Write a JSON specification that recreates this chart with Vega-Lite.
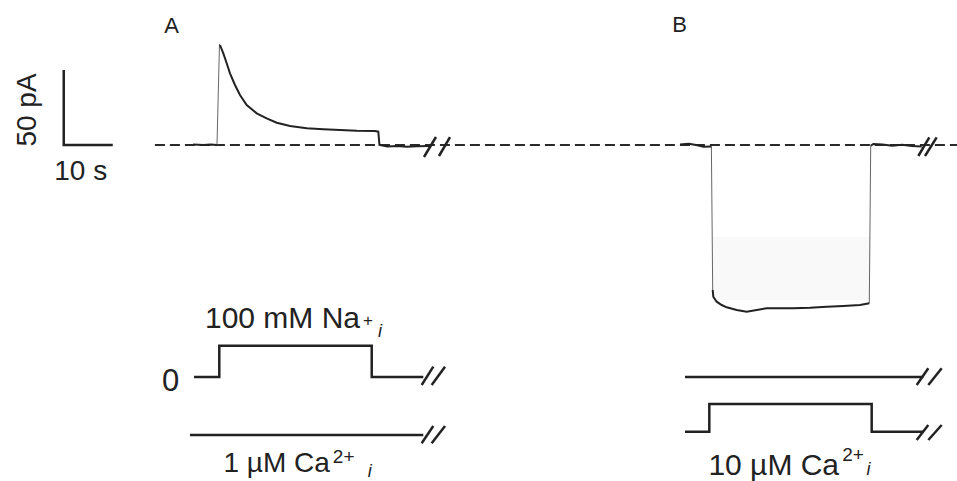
{
  "$schema": "https://vega.github.io/schema/vega-lite/v6.json",
  "width": 957,
  "height": 481,
  "autosize": {"type": "none"},
  "padding": 0,
  "background": "white",
  "config": {"view": {"stroke": null}},
  "datasets": {
    "fill": [{"t": 132.23, "t2": 164.45, "I": -61.33, "I2": -103.33}],
    "dash": [{"t": 18.6, "I": 0, "k": 0}, {"t": 182.2, "I": 0, "k": 1}],
    "thick": [
      {"s": "A1", "k": 0, "t": 26.37, "I": 0.3}, {"s": "A1", "k": 1, "t": 28.5, "I": 0.0}, {"s": "A1", "k": 2, "t": 30.0, "I": 0.4}, {"s": "A1", "k": 3, "t": 31.26, "I": 0.0},
      {"s": "A2", "k": 0, "t": 31.87, "I": 66.67}, {"s": "A2", "k": 1, "t": 32.55, "I": 61.13}, {"s": "A2", "k": 2, "t": 33.24, "I": 54.47}, {"s": "A2", "k": 3, "t": 33.91, "I": 47.8},
      {"s": "A2", "k": 4, "t": 34.93, "I": 40.0}, {"s": "A2", "k": 5, "t": 35.95, "I": 33.33}, {"s": "A2", "k": 6, "t": 37.32, "I": 26.67}, {"s": "A2", "k": 7, "t": 39.36, "I": 21.13},
      {"s": "A2", "k": 8, "t": 41.4, "I": 17.8}, {"s": "A2", "k": 9, "t": 43.44, "I": 14.87}, {"s": "A2", "k": 10, "t": 46.15, "I": 12.67}, {"s": "A2", "k": 11, "t": 49.56, "I": 11.13},
      {"s": "A2", "k": 12, "t": 52.94, "I": 10.47}, {"s": "A2", "k": 13, "t": 56.35, "I": 10.0}, {"s": "A2", "k": 14, "t": 59.76, "I": 9.53}, {"s": "A2", "k": 15, "t": 63.49, "I": 9.33},
      {"s": "A2", "k": 16, "t": 64.16, "I": 8.87}, {"s": "A2", "k": 17, "t": 64.4, "I": 0.0}, {"s": "A2", "k": 18, "t": 66.0, "I": -1.0}, {"s": "A2", "k": 19, "t": 68.0, "I": -0.6},
      {"s": "A2", "k": 20, "t": 70.0, "I": -1.2}, {"s": "A2", "k": 21, "t": 72.0, "I": -0.8}, {"s": "A2", "k": 22, "t": 74.7, "I": -0.7},
      {"s": "B1", "k": 0, "t": 125.7, "I": 0.3}, {"s": "B1", "k": 1, "t": 127.5, "I": 0.8}, {"s": "B1", "k": 2, "t": 129.0, "I": 0.0}, {"s": "B1", "k": 3, "t": 130.5, "I": -1.2}, {"s": "B1", "k": 4, "t": 132.1, "I": -1.0},
      {"s": "B2", "k": 0, "t": 132.37, "I": -96.67}, {"s": "B2", "k": 1, "t": 132.49, "I": -101.13}, {"s": "B2", "k": 2, "t": 133.18, "I": -104.47}, {"s": "B2", "k": 3, "t": 134.2, "I": -106.67},
      {"s": "B2", "k": 4, "t": 135.22, "I": -108.2}, {"s": "B2", "k": 5, "t": 137.26, "I": -110.0}, {"s": "B2", "k": 6, "t": 139.3, "I": -111.13}, {"s": "B2", "k": 7, "t": 141.34, "I": -110.0},
      {"s": "B2", "k": 8, "t": 143.38, "I": -108.87}, {"s": "B2", "k": 9, "t": 146.09, "I": -108.87}, {"s": "B2", "k": 10, "t": 148.81, "I": -108.87}, {"s": "B2", "k": 11, "t": 152.21, "I": -108.47},
      {"s": "B2", "k": 12, "t": 155.62, "I": -107.8}, {"s": "B2", "k": 13, "t": 159.01, "I": -107.33}, {"s": "B2", "k": 14, "t": 162.41, "I": -106.67}, {"s": "B2", "k": 15, "t": 164.31, "I": -105.53},
      {"s": "B3", "k": 0, "t": 164.6, "I": -0.5}, {"s": "B3", "k": 1, "t": 165.13, "I": 0.67}, {"s": "B3", "k": 2, "t": 167.0, "I": 0.3}, {"s": "B3", "k": 3, "t": 169.0, "I": -0.5},
      {"s": "B3", "k": 4, "t": 171.0, "I": 0.2}, {"s": "B3", "k": 5, "t": 173.0, "I": -0.6}, {"s": "B3", "k": 6, "t": 175.0, "I": -1.0}
    ],
    "thin": [
      {"s": "Ar", "k": 0, "t": 31.26, "I": 0.0}, {"s": "Ar", "k": 1, "t": 31.77, "I": 67.3},
      {"s": "Bd", "k": 0, "t": 132.1, "I": -1.0}, {"s": "Bd", "k": 1, "t": 132.37, "I": -96.67},
      {"s": "Bu", "k": 0, "t": 164.31, "I": -105.53}, {"s": "Bu", "k": 1, "t": 164.6, "I": -0.5}
    ],
    "stim": [
      {"s": "NaA", "k": 0, "t": 26.57, "I": -154.7}, {"s": "NaA", "k": 1, "t": 31.73, "I": -154.7}, {"s": "NaA", "k": 2, "t": 31.73, "I": -133.8},
      {"s": "NaA", "k": 3, "t": 62.82, "I": -133.8}, {"s": "NaA", "k": 4, "t": 62.82, "I": -154.7}, {"s": "NaA", "k": 5, "t": 73.34, "I": -154.7},
      {"s": "CaA", "k": 0, "t": 25.75, "I": -193.33}, {"s": "CaA", "k": 1, "t": 73.34, "I": -193.33},
      {"s": "NaB", "k": 0, "t": 126.72, "I": -154.6}, {"s": "NaB", "k": 1, "t": 175.33, "I": -154.6},
      {"s": "CaB", "k": 0, "t": 126.72, "I": -191.13}, {"s": "CaB", "k": 1, "t": 131.68, "I": -191.13}, {"s": "CaB", "k": 2, "t": 131.68, "I": -172.67},
      {"s": "CaB", "k": 3, "t": 164.8, "I": -172.67}, {"s": "CaB", "k": 4, "t": 164.8, "I": -191.13}, {"s": "CaB", "k": 5, "t": 175.33, "I": -191.13},
      {"s": "bar", "k": 0, "t": 0, "I": 50}, {"s": "bar", "k": 1, "t": 0, "I": 0}, {"s": "bar", "k": 2, "t": 10, "I": 0}
    ],
    "slash": [
      {"s": "a1", "k": 0, "t": 73.48, "I": -8.0}, {"s": "a1", "k": 1, "t": 75.93, "I": 5.33},
      {"s": "a2", "k": 0, "t": 76.54, "I": -7.33}, {"s": "a2", "k": 1, "t": 78.79, "I": 5.33},
      {"s": "n1", "k": 0, "t": 73.01, "I": -160}, {"s": "n1", "k": 1, "t": 75.38, "I": -147.8},
      {"s": "n2", "k": 0, "t": 75.05, "I": -160}, {"s": "n2", "k": 1, "t": 77.77, "I": -147.8},
      {"s": "c1", "k": 0, "t": 73.01, "I": -198.87}, {"s": "c1", "k": 1, "t": 75.38, "I": -187.33},
      {"s": "c2", "k": 0, "t": 75.05, "I": -198.87}, {"s": "c2", "k": 1, "t": 77.77, "I": -187.33},
      {"s": "b1", "k": 0, "t": 174.31, "I": -7.33}, {"s": "b1", "k": 1, "t": 176.55, "I": 5.13},
      {"s": "b2", "k": 0, "t": 175.67, "I": -7.33}, {"s": "b2", "k": 1, "t": 178.06, "I": 5.13},
      {"s": "m1", "k": 0, "t": 173.98, "I": -160}, {"s": "m1", "k": 1, "t": 176.35, "I": -148.87},
      {"s": "m2", "k": 0, "t": 176.35, "I": -160}, {"s": "m2", "k": 1, "t": 179.08, "I": -148.87},
      {"s": "d1", "k": 0, "t": 173.98, "I": -196.67}, {"s": "d1", "k": 1, "t": 176.35, "I": -186.67},
      {"s": "d2", "k": 0, "t": 176.35, "I": -196.67}, {"s": "d2", "k": 1, "t": 179.08, "I": -186.67}
    ],
    "letters": [{"t": 21.98, "I": 74.67, "label": "A"}, {"t": 125.6, "I": 75.33, "label": "B"}],
    "scaletext": [{"t": 3.46, "I": -23.33, "label": "10 s"}],
    "zero": [{"t": 21.78, "I": -164.0, "label": "0"}],
    "vlabel": [{"t": -7.29, "I": 23.33, "label": "50 pA"}],
    "main30": [
      {"t": 28.81, "I": -122.33, "label": "100 mM Na"},
      {"t": 131.49, "I": -220.0, "label": "10 µM Ca"}
    ],
    "main28": [
      {"t": 32.59, "I": -218.0, "label": "1 µM Ca"}
    ],
    "supPlus": [
      {"t": 62.06, "I": -117.33, "label": "+"}
    ],
    "sup": [
      {"t": 57.1, "I": -208.33, "label": "2+"},
      {"t": 160.99, "I": -206.67, "label": "2+"}
    ],
    "sub": [
      {"t": 64.51, "I": -124.67, "label": "i"},
      {"t": 62.4, "I": -218.33, "label": "i"},
      {"t": 164.15, "I": -216.67, "label": "i"}
    ]
  },
  "encoding": {
    "x": {"field": "t", "type": "quantitative", "scale": {"domain": [-13, 182.2], "nice": false, "zero": false}, "axis": null},
    "y": {"field": "I", "type": "quantitative", "scale": {"domain": [-224, 96.67], "nice": false, "zero": false}, "axis": null}
  },
  "layer": [
    {"data": {"name": "fill"}, "mark": {"type": "rect", "fill": "#f9f9f9"}, "encoding": {"x2": {"field": "t2"}, "y2": {"field": "I2"}}},
    {"data": {"name": "dash"}, "mark": {"type": "line", "color": "#2a2a2a", "strokeWidth": 2, "strokeDash": [10, 5]}, "encoding": {"order": {"field": "k"}}},
    {"data": {"name": "thin"}, "mark": {"type": "line", "color": "#666666", "strokeWidth": 1}, "encoding": {"detail": {"field": "s"}, "order": {"field": "k"}}},
    {"data": {"name": "thick"}, "mark": {"type": "line", "color": "#222222", "strokeWidth": 2}, "encoding": {"detail": {"field": "s"}, "order": {"field": "k"}}},
    {"data": {"name": "stim"}, "mark": {"type": "line", "color": "#222222", "strokeWidth": 2.5}, "encoding": {"detail": {"field": "s"}, "order": {"field": "k"}}},
    {"data": {"name": "slash"}, "mark": {"type": "line", "color": "#222222", "strokeWidth": 2.5}, "encoding": {"detail": {"field": "s"}, "order": {"field": "k"}}},
    {"data": {"name": "letters"}, "mark": {"type": "text", "font": "Liberation Sans", "fontSize": 22, "align": "center", "baseline": "alphabetic", "color": "#222222"}, "encoding": {"text": {"field": "label"}}},
    {"data": {"name": "scaletext"}, "mark": {"type": "text", "font": "Liberation Sans", "fontSize": 28, "align": "center", "baseline": "alphabetic", "color": "#222222"}, "encoding": {"text": {"field": "label"}}},
    {"data": {"name": "zero"}, "mark": {"type": "text", "font": "Liberation Sans", "fontSize": 31, "align": "center", "baseline": "alphabetic", "color": "#222222"}, "encoding": {"text": {"field": "label"}}},
    {"data": {"name": "vlabel"}, "mark": {"type": "text", "font": "Liberation Sans", "fontSize": 28, "align": "center", "baseline": "middle", "angle": 270, "color": "#222222"}, "encoding": {"text": {"field": "label"}}},
    {"data": {"name": "main30"}, "mark": {"type": "text", "font": "Liberation Sans", "fontSize": 30, "align": "left", "baseline": "alphabetic", "color": "#222222"}, "encoding": {"text": {"field": "label"}}},
    {"data": {"name": "main28"}, "mark": {"type": "text", "font": "Liberation Sans", "fontSize": 28, "align": "left", "baseline": "alphabetic", "color": "#222222"}, "encoding": {"text": {"field": "label"}}},
    {"data": {"name": "supPlus"}, "mark": {"type": "text", "font": "Liberation Sans", "fontSize": 17, "align": "center", "baseline": "middle", "color": "#222222"}, "encoding": {"text": {"field": "label"}}},
    {"data": {"name": "sup"}, "mark": {"type": "text", "font": "Liberation Sans", "fontSize": 19, "align": "center", "baseline": "middle", "color": "#222222"}, "encoding": {"text": {"field": "label"}}},
    {"data": {"name": "sub"}, "mark": {"type": "text", "font": "Liberation Sans", "fontSize": 18, "fontStyle": "italic", "align": "center", "baseline": "middle", "color": "#222222"}, "encoding": {"text": {"field": "label"}}}
  ]
}
